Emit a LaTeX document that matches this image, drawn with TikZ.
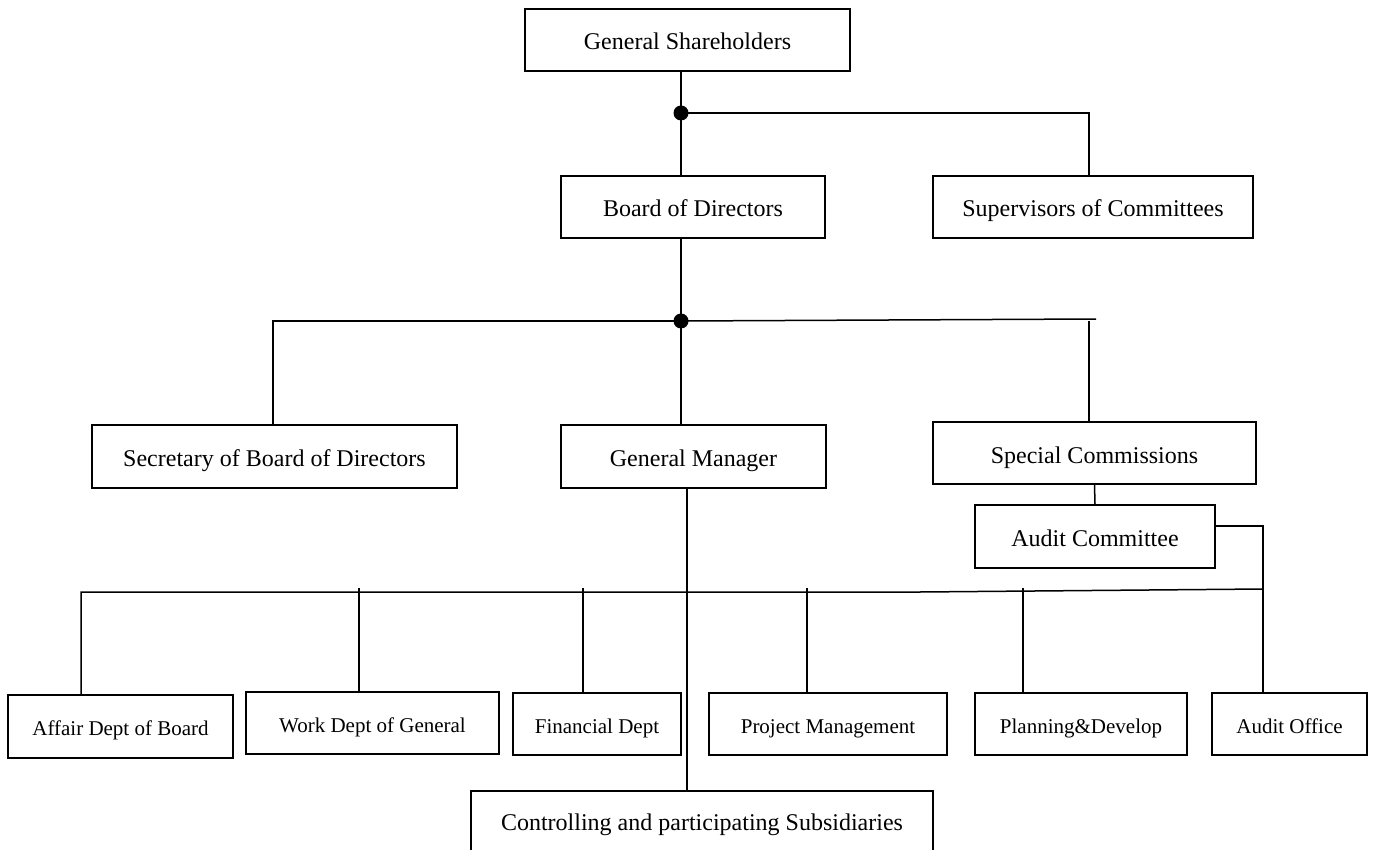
\documentclass[tikz,border=0pt]{standalone}
\usepackage{fontspec}
\setmainfont{Liberation Serif}
\begin{document}
\begin{tikzpicture}[x=1pt,y=-1pt,
  box/.style={draw,line width=1.5pt,inner sep=0pt,text height=22pt,text depth=2pt,font=\fontsize{24}{28}\selectfont},
  sbox/.style={box,text height=20pt,text depth=2pt,font=\fontsize{21}{25}\selectfont},
  conn/.style={line width=1.5pt},
  junction/.style={circle,fill=black,inner sep=0pt,minimum size=15pt}]
\clip (0,0) rectangle (1373,850);
\fill[white] (0,0) rectangle (1373,850);
% nodes
\node[box,minimum width=325pt,minimum height=62pt] (gs) at (687.5,40) {General Shareholders};
\node[box,minimum width=264pt,minimum height=62pt] (bod) at (693,207) {Board of Directors};
\node[box,minimum width=320pt,minimum height=62pt] (sup) at (1093,207) {Supervisors of Committees};
\node[box,minimum width=365pt,minimum height=63pt] (sec) at (274.5,456.5) {Secretary of Board of Directors};
\node[box,minimum width=265pt,minimum height=63pt] (gm) at (693.5,456.5) {General Manager};
\node[box,minimum width=323pt,minimum height=62pt] (sc) at (1094.5,453) {Special Commissions};
\node[box,minimum width=240pt,minimum height=63pt] (ac) at (1095,536.5) {Audit Committee};
\node[sbox,minimum width=225pt,minimum height=63pt] (aff) at (120.5,726.5) {Affair Dept of Board};
\node[sbox,minimum width=253pt,minimum height=62pt] (work) at (372.5,723) {Work Dept of General};
\node[sbox,minimum width=168pt,minimum height=62pt] (fin) at (597,724) {Financial Dept};
\node[sbox,minimum width=238pt,minimum height=62pt] (proj) at (828,724) {Project Management};
\node[sbox,minimum width=212pt,minimum height=62pt] (plan) at (1081,724) {Planning\&Develop};
\node[sbox,minimum width=155pt,minimum height=62pt] (ao) at (1289.5,724) {Audit Office};
\node[box,minimum width=462pt,text height=40pt,text depth=60pt,inner ysep=0pt,anchor=north] (ctrl) at (702,790) {Controlling and participating Subsidiaries};
% junctions and bends
\node[junction] (d1) at (681,113) {};
\node[junction] (d2) at (681,321) {};
\coordinate (s1) at (1089,113);
\coordinate (sec1) at (273,321);
\coordinate (sc1) at (1096,319);
\coordinate (sc2) at (1089,321);
\coordinate (a1) at (1263,526);
\coordinate (g1) at (687,488);
\coordinate (b0) at (81,592);
\coordinate (bm) at (920,592);
\coordinate (b1) at (1263,589);
\coordinate (t1) at (359,588);
\coordinate (t2) at (583,588);
\coordinate (t3) at (807,588);
\coordinate (t4) at (1023,588);
% connectors
\draw[conn] (d1 |- gs.south) -- (d1.center) -- (d1 |- bod.north);
\draw[conn] (d1.center) -- (s1) -- (s1 |- sup.north);
\draw[conn] (d2 |- bod.south) -- (d2.center) -- (d2 |- gm.north);
\draw[conn] (d2.center) -- (sec1) -- (sec1 |- sec.north);
\draw[conn] (d2.center) -- (sc1);
\draw[conn] (sc2) -- (sc2 |- sc.north);
\draw[conn] (sc.south) -- (ac.north);
\draw[conn] (ac.east |- a1) -- (a1) -- (a1 |- ao.north);
\draw[conn] (g1 |- gm.south) -- (g1 |- ctrl.north);
\draw[conn] (b0 |- aff.north) -- (b0) -- (bm) -- (b1);
\draw[conn] (t1) -- (t1 |- work.north);
\draw[conn] (t2) -- (t2 |- fin.north);
\draw[conn] (t3) -- (t3 |- proj.north);
\draw[conn] (t4) -- (t4 |- plan.north);
\end{tikzpicture}
\end{document}
